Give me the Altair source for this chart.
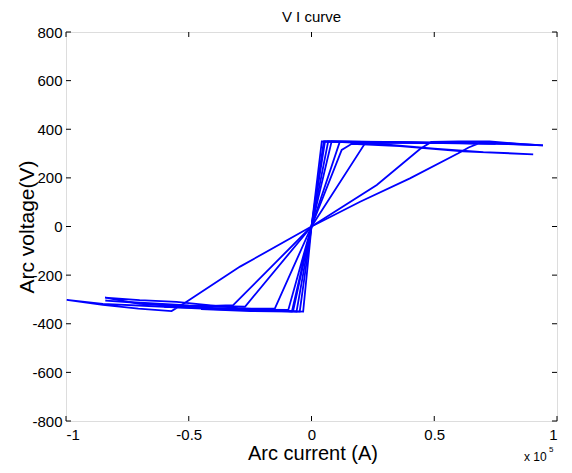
import altair as alt
import pandas as pd

# ---- data (current in A, voltage in V) ----
P1_I = [0, 19800, 40100, 59800, 64000, 68600, 80000, 94300, 80000, 60000, 30000, 4200, 0]
P1_V = [0, 102, 198, 301, 325, 344, 342, 334, 339, 343, 347, 350, 0]
P2_I = [0, 26600, 44200, 48800, 60000, 72500, 85000, 94300, 75000, 50000, 25000, 5500, 0]
P2_V = [0, 171, 319, 348, 350, 350, 340, 334, 342, 344, 348, 350, 0]
P3_I = [0, 12300, 16400, 36000, 61700, 90300, 70000, 50000, 30000, 6800, 0]
P3_V = [0, 315, 340, 331, 309, 297, 306, 320, 338, 350, 0]
P4_I = [0, 21800, 40000, 60000, 75000, 55000, 30000, 8200, 0]
P4_V = [0, 342, 345, 342, 340, 345, 348, 350, 0]
P5_I = [0, 11500, 30000, 50000, 30000, 5000, 0]
P5_V = [0, 348, 347, 343, 346, 350, 0]

N1_I = [0, -29100, -51500, -57000, -70500, -85000, -99700, -85000, -60000, -30000, -10000, -3400, 0]
N1_V = [0, -165, -314, -348, -338, -322, -302, -318, -330, -340, -348, -350, 0]
N2_I = [0, -31900, -50000, -70000, -84100, -70000, -55000, -30000, -7500, 0]
N2_V = [0, -323, -330, -318, -293, -303, -310, -336, -348, 0]
N3_I = [0, -27100, -50000, -84000, -65000, -40000, -15000, -6100, 0]
N3_V = [0, -330, -325, -305, -318, -336, -345, -350, 0]
N4_I = [0, -14900, -35000, -60000, -40000, -20000, -4800, 0]
N4_V = [0, -337, -338, -330, -340, -346, -350, 0]
N5_I = [0, -9450, -30000, -45000, -25000, -8000, 0]
N5_V = [0, -343, -342, -340, -348, -350, 0]

X_TICKS = [-100000, -50000, 0, 50000, 100000]
Y_TICKS = [-800, -600, -400, -200, 0, 200, 400, 600, 800]

paths = {
    "P1": (P1_I, P1_V), "P2": (P2_I, P2_V), "P3": (P3_I, P3_V),
    "P4": (P4_I, P4_V), "P5": (P5_I, P5_V),
    "N1": (N1_I, N1_V), "N2": (N2_I, N2_V), "N3": (N3_I, N3_V),
    "N4": (N4_I, N4_V), "N5": (N5_I, N5_V),
}
rows = []
for name, (ii, vv) in paths.items():
    for k, (i, v) in enumerate(zip(ii, vv)):
        rows.append({"path": name, "seq": k, "I": i, "V": v})
df = pd.DataFrame(rows)

W, H = 491, 389
FONT = "Liberation Sans"

xs = alt.Scale(domain=[-100000, 100000], nice=False, zero=False)
ys = alt.Scale(domain=[-800, 800], nice=False, zero=False)

lines = alt.Chart(df).mark_line(color="#0000ff", strokeWidth=1.8, clip=True).encode(
    x=alt.X("I:Q", scale=xs,
            axis=alt.Axis(values=X_TICKS, title="Arc current (A)", grid=False,
                          domain=False, ticks=False, labelPadding=6,
                          labelExpr="'' + datum.value/100000",
                          labelFontSize=15, labelFont=FONT, labelColor="black",
                          titleFont=FONT, titleFontSize=20, titleFontWeight="normal",
                          titleColor="black", titleX=W / 2 + 1, titleY=32,
                          titleBaseline="middle", titleAlign="center")),
    y=alt.Y("V:Q", scale=ys,
            axis=alt.Axis(values=Y_TICKS, title="Arc voltage(V)", grid=False,
                          domain=False, ticks=False, labelPadding=4,
                          labelExpr="'' + datum.value",
                          labelFontSize=15, labelFont=FONT, labelColor="black",
                          titleFont=FONT, titleFontSize=21, titleFontWeight="normal",
                          titleColor="black", titleX=-39, titleY=H / 2,
                          titleAngle=-90, titleBaseline="middle", titleAlign="center")),
    detail="path:N",
    order="seq:Q",
)

xt = pd.DataFrame({"t": X_TICKS})
yt = pd.DataFrame({"t": Y_TICKS})
tick_b = alt.Chart(xt).mark_rule(color="black", strokeWidth=1).encode(
    x=alt.X("t:Q", scale=xs), y=alt.value(H), y2=alt.value(H - 5))
tick_t = alt.Chart(xt).mark_rule(color="black", strokeWidth=1).encode(
    x=alt.X("t:Q", scale=xs), y=alt.value(0), y2=alt.value(5))
tick_l = alt.Chart(yt).mark_rule(color="black", strokeWidth=1).encode(
    y=alt.Y("t:Q", scale=ys), x=alt.value(0), x2=alt.value(5))
tick_r = alt.Chart(yt).mark_rule(color="black", strokeWidth=1).encode(
    y=alt.Y("t:Q", scale=ys), x=alt.value(W), x2=alt.value(W - 5))

exp_main = alt.Chart(pd.DataFrame({"s": ["x 10"]})).mark_text(
    align="left", baseline="middle", fontSize=12, font=FONT, color="black").encode(
    text="s:N", x=alt.value(458), y=alt.value(425))
exp_sup = alt.Chart(pd.DataFrame({"s": ["5"]})).mark_text(
    align="left", baseline="middle", fontSize=8, font=FONT, color="black").encode(
    text="s:N", x=alt.value(483), y=alt.value(418))

chart = alt.layer(lines, tick_b, tick_t, tick_l, tick_r, exp_main, exp_sup).properties(
    width=W, height=H,
    title=alt.TitleParams("V I curve", font=FONT, fontSize=15, fontWeight="normal",
                          color="black", offset=0),
    autosize="none",
    padding={"left": 58, "top": 24, "right": 7, "bottom": 44},
).configure_view(stroke="black", strokeWidth=1).configure(background="white")

chart.save("out.html", embed_options={"renderer": "svg", "actions": False})
